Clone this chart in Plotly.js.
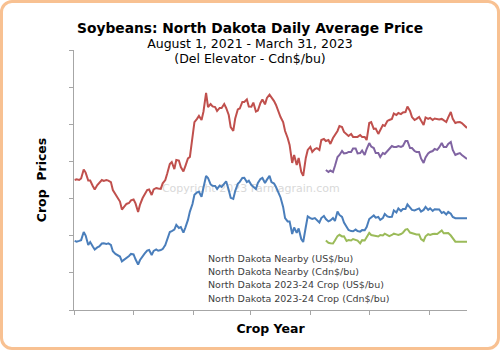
<!DOCTYPE html>
<html>
<head>
<meta charset="utf-8">
<script src="https://cdn.plot.ly/plotly-3.0.1.min.js"></script>
<style>
  html, body { margin: 0; padding: 0; background: #ffffff; }
  #wrap { position: relative; width: 500px; height: 350px; }
  #chart { position: absolute; left: 0; top: 0; width: 500px; height: 350px; }
  #frame { position: absolute; left: 0; top: 0; width: 500px; height: 350px; box-sizing: border-box;
           border: 3px solid #f8c192; border-radius: 12px; pointer-events: none; }
</style>
</head>
<body>
<div id="wrap"><div id="chart"></div><div id="frame"></div></div>
<script>
// Monday readings (plus final day 2023-03-31)
const mondays = ["2021-08-02","2021-08-09","2021-08-16","2021-08-23","2021-08-30","2021-09-06","2021-09-13","2021-09-20","2021-09-27","2021-10-04","2021-10-11","2021-10-18","2021-10-25","2021-11-01","2021-11-08","2021-11-15","2021-11-22","2021-11-29","2021-12-06","2021-12-13","2021-12-20","2021-12-27","2022-01-03","2022-01-10","2022-01-17","2022-01-24","2022-01-31","2022-02-07","2022-02-14","2022-02-21","2022-02-28","2022-03-07","2022-03-14","2022-03-21","2022-03-28","2022-04-04","2022-04-11","2022-04-18","2022-04-25","2022-05-02","2022-05-09","2022-05-16","2022-05-23","2022-05-30","2022-06-06","2022-06-13","2022-06-20","2022-06-27","2022-07-04","2022-07-11","2022-07-18","2022-07-25","2022-08-01","2022-08-08","2022-08-15","2022-08-22","2022-08-29","2022-09-05","2022-09-12","2022-09-19","2022-09-26","2022-10-03","2022-10-10","2022-10-17","2022-10-24","2022-10-31","2022-11-07","2022-11-14","2022-11-21","2022-11-28","2022-12-05","2022-12-12","2022-12-19","2022-12-26","2023-01-02","2023-01-09","2023-01-16","2023-01-23","2023-01-30","2023-02-06","2023-02-13","2023-02-20","2023-02-27","2023-03-06","2023-03-13","2023-03-20","2023-03-27","2023-03-31"];

// Thursday readings
const thursdays = ["2021-08-05","2021-08-12","2021-08-19","2021-08-26","2021-09-02","2021-09-09","2021-09-16","2021-09-23","2021-09-30","2021-10-07","2021-10-14","2021-10-21","2021-10-28","2021-11-04","2021-11-11","2021-11-18","2021-11-25","2021-12-02","2021-12-09","2021-12-16","2021-12-23","2021-12-30","2022-01-06","2022-01-13","2022-01-20","2022-01-27","2022-02-03","2022-02-10","2022-02-17","2022-02-24","2022-03-03","2022-03-10","2022-03-17","2022-03-24","2022-03-31","2022-04-07","2022-04-14","2022-04-21","2022-04-28","2022-05-05","2022-05-12","2022-05-19","2022-05-26","2022-06-02","2022-06-09","2022-06-16","2022-06-23","2022-06-30","2022-07-07","2022-07-14","2022-07-21","2022-07-28","2022-08-04","2022-08-11","2022-08-18","2022-08-25","2022-09-01","2022-09-08","2022-09-15","2022-09-22","2022-09-29","2022-10-06","2022-10-13","2022-10-20","2022-10-27","2022-11-03","2022-11-10","2022-11-17","2022-11-24","2022-12-01","2022-12-08","2022-12-15","2022-12-22","2022-12-29","2023-01-05","2023-01-12","2023-01-19","2023-01-26","2023-02-02","2023-02-09","2023-02-16","2023-02-23","2023-03-02","2023-03-09","2023-03-16","2023-03-23","2023-03-30"];

const newCropMondays = ["2022-08-25","2022-08-29","2022-09-05","2022-09-12","2022-09-19","2022-09-26","2022-10-03","2022-10-10","2022-10-17","2022-10-24","2022-10-31","2022-11-07","2022-11-14","2022-11-21","2022-11-28","2022-12-05","2022-12-12","2022-12-19","2022-12-26","2023-01-02","2023-01-09","2023-01-16","2023-01-23","2023-01-30","2023-02-06","2023-02-13","2023-02-20","2023-02-27","2023-03-06","2023-03-13","2023-03-20","2023-03-27","2023-03-31"];

const newCropThursdays = ["2022-09-01","2022-09-08","2022-09-15","2022-09-22","2022-09-29","2022-10-06","2022-10-13","2022-10-20","2022-10-27","2022-11-03","2022-11-10","2022-11-17","2022-11-24","2022-12-01","2022-12-08","2022-12-15","2022-12-22","2022-12-29","2023-01-05","2023-01-12","2023-01-19","2023-01-26","2023-02-02","2023-02-09","2023-02-16","2023-02-23","2023-03-02","2023-03-09","2023-03-16","2023-03-23","2023-03-30"];

const nearbyUS_mon = [11.72,11.72,12.20,11.50,11.42,11.37,11.58,11.55,11.50,11.02,
10.88,10.72,10.91,10.99,10.45,10.93,11.20,10.96,11.26,11.23,
11.50,12.20,12.33,12.42,12.17,12.85,13.71,14.33,14.09,15.22,
14.76,14.68,14.70,14.84,14.46,13.98,14.79,15.11,14.89,14.73,
14.52,15.05,14.84,15.22,14.81,14.27,13.55,12.77,12.09,12.15,
11.82,12.47,12.95,12.95,12.71,13.06,12.77,12.95,13.30,13.01,
12.44,12.25,12.33,12.22,12.29,12.90,13.09,13.01,12.95,13.04,
13.02,13.25,13.33,13.44,13.49,13.36,13.47,13.39,13.39,13.33,
13.41,13.22,13.14,13.18,12.94,12.94,12.94,12.94];
const nearbyUS_thu = [11.68,11.76,12.01,11.66,11.26,11.42,11.59,11.59,11.16,10.96,
10.62,10.84,11.02,10.73,10.69,11.03,11.23,11.18,11.19,11.28,
11.76,12.25,12.58,12.47,12.44,13.30,14.20,14.37,14.60,15.11,
14.69,14.52,14.63,14.93,14.04,14.41,14.90,15.12,14.96,14.62,
14.84,15.11,15.02,14.89,14.62,14.06,12.95,12.77,12.44,12.39,
11.66,13.04,12.90,12.85,12.95,12.90,12.82,12.79,13.12,12.71,
12.31,12.24,12.25,12.30,12.47,12.98,12.97,12.85,13.17,13.01,
13.36,13.47,13.44,13.69,13.39,13.41,13.30,13.55,13.47,13.42,
13.41,13.28,13.28,13.01,12.94,12.94,12.94];

const nearbyCdn_mon = [15.00,15.00,15.57,14.97,14.68,14.73,15.00,15.00,14.89,14.22,
13.84,13.60,13.76,13.95,13.28,14.03,14.46,14.19,14.57,14.52,
15.00,15.86,15.59,16.05,15.46,16.16,17.26,18.29,18.23,19.69,
19.09,18.93,18.88,19.09,18.50,17.64,18.80,19.20,19.34,18.95,
18.69,19.15,19.07,19.60,19.25,18.61,18.12,17.26,15.92,15.81,
15.43,16.19,16.78,16.67,16.62,17.21,17.15,17.26,17.64,17.85,
17.48,17.48,17.32,17.42,17.32,18.07,17.75,17.48,17.96,18.18,
18.29,18.50,18.55,18.66,18.72,18.23,18.39,17.96,18.29,18.23,
18.29,18.29,18.12,18.66,18.07,18.12,17.91,17.80];
const nearbyCdn_thu = [15.04,15.08,15.40,14.97,14.49,14.84,14.95,14.97,14.46,14.11,
13.41,13.71,13.90,13.74,13.68,14.22,14.49,14.49,14.54,14.82,
15.35,15.97,16.08,15.70,15.75,16.24,18.12,18.45,18.69,18.93,
18.96,18.72,18.88,18.88,17.85,18.31,18.85,19.20,18.96,19.17,
18.74,19.34,19.42,19.47,19.04,18.39,17.64,16.89,16.35,16.19,
15.22,16.62,16.51,16.72,17.15,17.10,16.94,17.42,17.91,17.59,
17.37,17.32,17.32,17.32,17.15,18.12,17.77,17.69,17.91,18.23,
18.58,18.61,18.64,18.96,18.39,18.29,18.20,18.37,18.34,18.31,
18.26,18.20,18.37,18.29,18.11,18.07,17.82];

const newCropUS_mon = [11.74,
11.62,11.58,11.98,11.96,11.72,11.74,11.79,11.59,11.74,12.15,
12.01,11.96,12.01,12.01,12.04,12.07,12.09,12.33,12.17,12.07,
12.07,11.72,12.08,12.09,12.09,12.28,12.12,12.01,11.68,11.68,
11.68,11.68];
const newCropUS_thu = [11.59,11.74,12.05,11.97,11.77,11.82,11.74,11.76,11.90,12.04,
11.96,12.04,12.11,11.98,12.11,12.04,12.16,12.36,12.13,12.07,
11.82,11.97,12.04,12.11,12.19,12.13,12.14,11.85,11.68,11.68,
11.68];

const newCropCdn_mon = [15.54,
15.43,15.43,16.24,16.56,16.45,16.51,16.70,16.45,16.35,16.99,
16.72,16.45,16.45,16.56,16.83,16.78,16.78,17.10,16.72,16.56,
16.51,15.92,16.43,16.56,16.62,16.99,16.78,17.05,16.35,16.45,
16.24,16.13];
const newCropCdn_thu = [15.51,15.75,16.35,16.43,16.51,16.70,16.43,16.59,16.67,16.80,
16.45,16.24,16.40,16.67,16.78,16.83,16.83,17.10,16.72,16.51,
16.16,16.21,16.51,16.67,16.75,16.78,16.94,16.62,16.40,16.35,
16.13];

const seriesNames = ["North Dakota Nearby (US$/bu)","North Dakota Nearby (Cdn$/bu)","North Dakota 2023-24 Crop (US$/bu)","North Dakota 2023-24 Crop (Cdn$/bu)"];
const seriesColors = ["#4a7ebb","#c0504d","#9bbb59","#8064a2"];

// merge two sets of readings into one date-ordered series
function merge(d1, v1, d2, v2) {
  const pts = d1.map((d, i) => [d, v1[i]]).concat(d2.map((d, i) => [d, v2[i]]));
  pts.sort((a, b) => (a[0] < b[0] ? -1 : a[0] > b[0] ? 1 : 0));
  return {x: pts.map(p => p[0]), y: pts.map(p => p[1])};
}

const FONT = "DejaVu Sans, Verdana, sans-serif";

const s0 = merge(mondays, nearbyUS_mon, thursdays, nearbyUS_thu);
const s1 = merge(mondays, nearbyCdn_mon, thursdays, nearbyCdn_thu);
const s2 = merge(newCropMondays, newCropUS_mon, newCropThursdays, newCropUS_thu);
const s3 = merge(newCropMondays, newCropCdn_mon, newCropThursdays, newCropCdn_thu);

const traces = [s0, s1, s2, s3].map((s, i) => ({
  x: s.x, y: s.y, name: seriesNames[i], type: "scatter", mode: "lines",
  line: {color: seriesColors[i], width: 2}
}));

const legendY = [0.1988, 0.1473, 0.0962, 0.0450];

const layout = {
  width: 500, height: 350,
  margin: {l: 74, r: 33, t: 50, b: 40, pad: 0},
  paper_bgcolor: "rgba(0,0,0,0)",
  plot_bgcolor: "rgba(0,0,0,0)",
  showlegend: false,
  font: {family: FONT, color: "#000"},
  title: {
    text: "<span style='font-size:13.8px'><b>Soybeans: North Dakota Daily Average Price</b></span><br><span style='font-size:12.5px'>August 1, 2021 - March 31, 2023</span><br><span style='font-size:12.5px'>(Del Elevator - Cdn$/bu)</span>",
    font: {family: FONT, size: 11.5, color: "#000"},
    x: 0.5, xanchor: "center", xref: "container",
    y: 0.905, yanchor: "top", yref: "container"
  },
  xaxis: {
    type: "date",
    range: ["2021-08-01", "2023-03-31"],
    tick0: "2021-08-01", dtick: "M3",
    showticklabels: false,
    ticks: "outside", ticklen: 4, tickcolor: "#a6a6a6", tickwidth: 1,
    showline: true, linecolor: "#a6a6a6", linewidth: 1,
    showgrid: false, zeroline: false,
    title: {text: "<b>Crop Year</b>", font: {family: FONT, size: 12.5, color: "#000"}, standoff: 10}
  },
  yaxis: {
    range: [8, 22], dtick: 2, tick0: 8,
    showticklabels: false,
    ticks: "outside", ticklen: 4, tickcolor: "#a6a6a6", tickwidth: 1,
    showline: true, linecolor: "#a6a6a6", linewidth: 1,
    showgrid: false, zeroline: false,
    title: {text: "<b>Crop\u00a0 Prices</b>", font: {family: FONT, size: 12.5, color: "#000"}, standoff: 19.5}
  },
  shapes: [{
    type: "rect", xref: "paper", yref: "paper", x0: 0.2, x1: 0.7, y0: 0.43, y1: 0.51,
    line: {width: 0}, fillcolor: "rgba(0,0,0,0)", layer: "below",
    label: {text: "Copyright 2023 Farmagrain.com", font: {family: FONT, size: 11, color: "#d9d9d9"}, textposition: "middle center"}
  }],
  annotations: seriesNames.map((n, i) => ({
    xref: "paper", yref: "paper", x: 0.335, y: legendY[i], xanchor: "left", yanchor: "middle",
    align: "left", showarrow: false, text: n,
    font: {family: FONT, size: 9.5, color: "#404040"}
  }))
};

Plotly.newPlot("chart", traces, layout, {displayModeBar: false, staticPlot: true});
</script>
</body>
</html>
